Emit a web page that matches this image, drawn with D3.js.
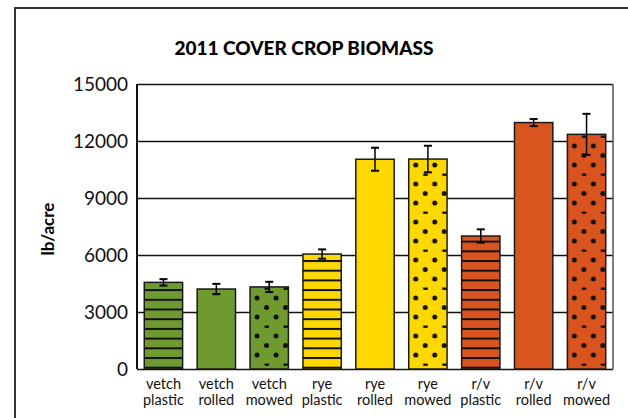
<!DOCTYPE html>
<html>
<head>
<meta charset="utf-8">
<script src="https://cdn.jsdelivr.net/npm/d3@7"></script>
<style>
  body { margin: 0; background: #fff; }
  svg { display: block; font-family: Lato, "Open Sans", sans-serif; }
</style>
</head>
<body>
<svg id="chart"></svg>
<script>
// data
const crops = ["vetch", "vetch", "vetch", "rye", "rye", "rye", "r/v", "r/v", "r/v"];
const methods = ["plastic", "rolled", "mowed", "plastic", "rolled", "mowed", "plastic", "rolled", "mowed"];
const biomass = [4560, 4210, 4320, 6050, 11040, 11050, 7000, 12970, 12350];
const errors = [170, 270, 270, 245, 605, 700, 350, 185, 1080];
const yTicks = [0, 3000, 6000, 9000, 12000, 15000];

const cropColor = { "vetch": "#6f9a2f", "rye": "#ffd800", "r/v": "#d9541e" };

const config = {
    width: 628,
    height: 418,
    margin: { top: 84, right: 15, bottom: 49, left: 137 },
    title: "2011 COVER CROP BIOMASS",
    yLabel: "lb/acre"
};

const innerW = config.width - config.margin.left - config.margin.right;
const innerH = config.height - config.margin.top - config.margin.bottom;

const data = biomass.map((v, i) => ({
    id: i, crop: crops[i], method: methods[i], value: v, err: errors[i]
}));

const svg = d3.select("#chart")
    .attr("width", config.width)
    .attr("height", config.height);

// outer frame, runs off the right and bottom edges
svg.append("rect")
    .attr("x", 15).attr("y", 8)
    .attr("width", config.width).attr("height", config.height)
    .attr("fill", "none").attr("stroke", "#333").attr("stroke-width", 2);

svg.append("text")
    .attr("x", 304).attr("y", 55)
    .attr("text-anchor", "middle")
    .style("font-size", "19px").style("font-weight", 900)
    .text(config.title);

svg.append("text")
    .attr("transform", "translate(54,229) rotate(-90)")
    .attr("text-anchor", "middle")
    .style("font-size", "17px").style("font-weight", 700)
    .text(config.yLabel);

const x = d3.scaleBand()
    .domain(data.map(d => d.id))
    .range([0, innerW])
    .paddingInner(0.275)
    .paddingOuter(0.1375);

const y = d3.scaleLinear()
    .domain([0, 15000])
    .range([innerH, 0]);

const chart = svg.append("g")
    .attr("transform", `translate(${config.margin.left},${config.margin.top})`);

// fill patterns: stripes for plastic, dots for mowed
const defs = svg.append("defs");
data.forEach(d => {
    const bx = config.margin.left + x(d.id);
    const by = config.margin.top + y(0);
    if (d.method === "plastic") {
        const p = defs.append("pattern")
            .attr("id", "pat" + d.id)
            .attr("patternUnits", "userSpaceOnUse")
            .attr("x", bx).attr("y", by - 8.7)
            .attr("width", 20).attr("height", 9.7);
        p.append("rect").attr("width", 20).attr("height", 9.7).attr("fill", cropColor[d.crop]);
        p.append("rect").attr("width", 20).attr("height", 2).attr("fill", "#111");
    } else if (d.method === "mowed") {
        const p = defs.append("pattern")
            .attr("id", "pat" + d.id)
            .attr("patternUnits", "userSpaceOnUse")
            .attr("x", bx + 3).attr("y", by - 3)
            .attr("width", 19).attr("height", 38);
        p.append("rect").attr("width", 19).attr("height", 38).attr("fill", cropColor[d.crop]);
        [[0, 0], [19, 0], [9.5, 9.5], [0, 19], [19, 19], [0, 38], [19, 38]].forEach(c => {
            p.append("circle").attr("cx", c[0]).attr("cy", c[1]).attr("r", 2.5).attr("fill", "#111");
        });
        p.append("rect").attr("x", 7.5).attr("y", 27.5).attr("width", 4.5).attr("height", 2.4).attr("fill", "#111");
    }
});

// gridlines and y axis
const yAxis = d3.axisLeft(y)
    .tickValues(yTicks)
    .tickSize(-innerW)
    .tickPadding(9)
    .tickFormat(d3.format("d"));

const yAxisG = chart.append("g").call(yAxis);
yAxisG.select(".domain").remove();
yAxisG.selectAll(".tick line").attr("stroke", "#111").attr("stroke-width", 1.3);
yAxisG.selectAll(".tick text")
    .style("font-size", "19px")
    .attr("fill", "#111")
    .attr("font-family", "Lato, sans-serif");

// plot frame
chart.append("line")
    .attr("x1", 0).attr("x2", 0).attr("y1", 0).attr("y2", innerH)
    .attr("stroke", "#111").attr("stroke-width", 2);
chart.append("line")
    .attr("x1", innerW).attr("x2", innerW).attr("y1", 0).attr("y2", innerH)
    .attr("stroke", "#555").attr("stroke-width", 1.5);

// bars
chart.selectAll(".bar")
    .data(data)
    .enter()
    .append("rect")
    .attr("class", "bar")
    .attr("x", d => x(d.id))
    .attr("y", d => y(d.value))
    .attr("width", x.bandwidth())
    .attr("height", d => innerH - y(d.value))
    .attr("fill", d => d.method === "rolled" ? cropColor[d.crop] : `url(#pat${d.id})`)
    .attr("stroke", "#1a1a1a")
    .attr("stroke-width", 1.5);

// error bars
const errG = chart.selectAll(".err")
    .data(data)
    .enter()
    .append("g")
    .attr("class", "err")
    .attr("transform", d => `translate(${x(d.id) + x.bandwidth() / 2},0)`)
    .attr("stroke", "#000");

errG.append("line")
    .attr("y1", d => y(d.value + d.err)).attr("y2", d => y(d.value - d.err))
    .attr("stroke-width", 1.5);
errG.append("line")
    .attr("x1", -4).attr("x2", 4)
    .attr("y1", d => y(d.value + d.err)).attr("y2", d => y(d.value + d.err))
    .attr("stroke-width", 2);
errG.append("line")
    .attr("x1", -4).attr("x2", 4)
    .attr("y1", d => y(d.value - d.err)).attr("y2", d => y(d.value - d.err))
    .attr("stroke-width", 2);

// two-line category labels, one text per line
chart.selectAll(".xlabel1")
    .data(data)
    .enter()
    .append("text")
    .attr("class", "xlabel1")
    .attr("text-anchor", "middle")
    .attr("x", d => x(d.id) + x.bandwidth() / 2)
    .attr("y", innerH + 19.5)
    .style("font-size", "14.5px")
    .attr("fill", "#111")
    .text(d => d.crop);

chart.selectAll(".xlabel2")
    .data(data)
    .enter()
    .append("text")
    .attr("class", "xlabel2")
    .attr("text-anchor", "middle")
    .attr("x", d => x(d.id) + x.bandwidth() / 2)
    .attr("y", innerH + 36)
    .style("font-size", "14.5px")
    .attr("fill", "#111")
    .text(d => d.method);
</script>
</body>
</html>
